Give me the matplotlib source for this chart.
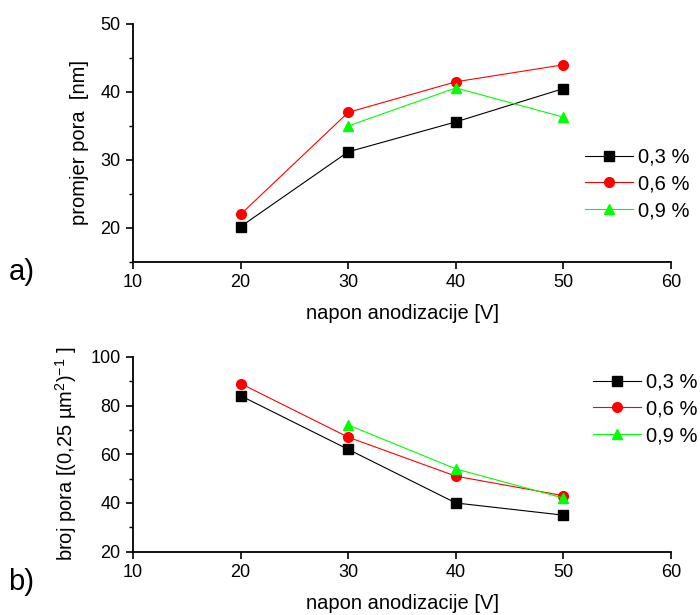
import numpy as np
import matplotlib as mpl
mpl.use('Agg')
mpl.rcParams['font.family'] = ['Liberation Sans', 'DejaVu Sans']
mpl.rcParams['mathtext.default'] = 'regular'
from matplotlib import pyplot as plt
import matplotlib.ticker as ticker

# napon anodizacije [V]
napon = [20, 30, 40, 50]
napon_g = [30, 40, 50]
labels = ['0,3 %', '0,6 %', '0,9 %']

# a) promjer pora [nm]
promjer_03 = [20.2, 31.2, 35.6, 40.5]
promjer_06 = [22.0, 37.0, 41.5, 44.0]
promjer_09 = [35.0, 40.6, 36.3]

# b) broj pora [(0,25 um^2)^-1]
broj_03 = [84, 62, 40, 35]
broj_06 = [89, 67, 51, 43]
broj_09 = [72, 54, 42]

fig = plt.figure(figsize=(7.0, 6.15), dpi=100)

def style(ax):
    ax.spines['top'].set_visible(False)
    ax.spines['right'].set_visible(False)
    ax.spines['left'].set_linewidth(1.3)
    ax.spines['bottom'].set_linewidth(1.3)
    ax.tick_params(which='major', direction='out', length=5, width=1.2, labelsize=13, pad=4)
    ax.tick_params(which='minor', direction='out', length=3, width=1.0)
    ax.set_xlim(10, 60)
    ax.xaxis.set_major_locator(ticker.MultipleLocator(10))

def draw(ax, y1, y2, y3):
    ax.plot(napon, y1, '-s', color='black', lw=0.8, ms=6.5, label=labels[0])
    ax.plot(napon, y2, '-o', color='red', lw=0.8, ms=7, label=labels[1])
    ax.plot(napon_g, y3, '-^', color='#00ff00', lw=0.8, ms=7.5, label=labels[2])

leg_kw = dict(frameon=False, fontsize=14.5, handlelength=2.4, handletextpad=0.25,
              labelspacing=0.38, borderaxespad=0, borderpad=0)

# gornji graf
ax1 = fig.add_axes([0.19, 0.574, 0.7686, 0.387])
draw(ax1, promjer_03, promjer_06, promjer_09)
style(ax1)
ax1.set_ylim(15, 50)
ax1.yaxis.set_major_locator(ticker.MultipleLocator(10))
ax1.yaxis.set_minor_locator(ticker.MultipleLocator(5))
ax1.yaxis.set_major_formatter(ticker.FuncFormatter(lambda v, p: '%d' % v if v >= 20 else ''))
ax1.set_xlabel('napon anodizacije [V]', fontsize=14.5, labelpad=9)
ax1.set_ylabel('promjer pora  [nm]', fontsize=14.5, labelpad=8)
ax1.legend(loc='center left', bbox_to_anchor=(0.84, 0.328), **leg_kw)
fig.text(0.012, 0.545, 'a)', fontsize=21)

# donji graf
ax2 = fig.add_axes([0.19, 0.1029, 0.7686, 0.317])
draw(ax2, broj_03, broj_06, broj_09)
style(ax2)
ax2.set_ylim(20, 100)
ax2.yaxis.set_major_locator(ticker.MultipleLocator(20))
ax2.yaxis.set_minor_locator(ticker.MultipleLocator(10))
ax2.set_xlabel('napon anodizacije [V]', fontsize=14.5, labelpad=9)
ax2.set_ylabel('broj pora [(0,25 µm$^2$)$^{-1}$ ]', fontsize=14.5, labelpad=8)
ax2.legend(loc='center left', bbox_to_anchor=(0.855, 0.732), **leg_kw)
fig.text(0.012, 0.04, 'b)', fontsize=21)

plt.savefig('out.png', dpi=100)
